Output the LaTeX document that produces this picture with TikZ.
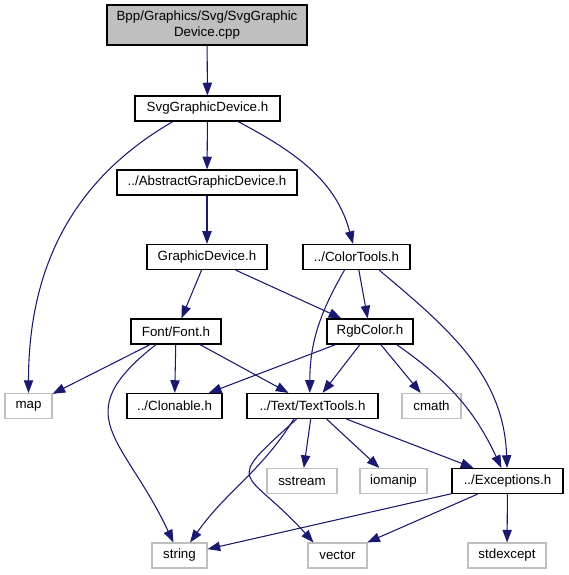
\documentclass[tikz,border=0pt]{standalone}
\usepackage{fontspec}
\setmainfont{Liberation Sans}
\usetikzlibrary{arrows.meta}
\definecolor{edgeblue}{RGB}{25,25,112}
\definecolor{sysgray}{RGB}{191,191,191}
\begin{document}
\begin{tikzpicture}[x=0.75pt, y=-0.75pt,
    hdr/.style={draw=black, line width=0.9pt, minimum height=18.75pt, inner xsep=2pt, font=\fontsize{10}{11.5}\selectfont},
    sys/.style={hdr, draw=sysgray, line width=0.8pt},
    dep/.style={draw=edgeblue, line width=0.8pt, -{Triangle[length=9.5pt,width=7pt]}}]
    \useasboundingbox (0,0) rectangle (568,575);
    \node[hdr, fill=sysgray, minimum width=150pt, minimum height=30pt, align=center] (cpp) at (207,25) {Bpp/Graphics/Svg/SvgGraphic\\Device.cpp};
    \node[hdr, minimum width=108.75pt] (svgh) at (207.5,108.5) {SvgGraphicDevice.h};
    \node[hdr, minimum width=135pt] (abstract) at (207,182.5) {../AbstractGraphicDevice.h};
    \node[hdr, minimum width=90pt] (graphic) at (207,257) {GraphicDevice.h};
    \node[hdr, minimum width=80.25pt] (colortools) at (356.5,257) {../ColorTools.h};
    \node[hdr, minimum width=67.5pt] (font) at (176,331.5) {Font/Font.h};
    \node[hdr, minimum width=64.5pt] (rgb) at (370,331.5) {RgbColor.h};
    \node[sys, minimum width=35.25pt] (map) at (28.5,406) {map};
    \node[hdr, minimum width=71.25pt] (clonable) at (174.5,406) {../Clonable.h};
    \node[hdr, minimum width=98.25pt] (texttools) at (312.5,406) {../Text/TextTools.h};
    \node[sys, minimum width=44.25pt] (cmath) at (431.5,406) {cmath};
    \node[sys, minimum width=52.5pt] (sstream) at (302,481) {sstream};
    \node[sys, minimum width=50.25pt] (iomanip) at (393.5,481) {iomanip};
    \node[hdr, minimum width=83.25pt] (exceptions) at (507.5,481) {../Exceptions.h};
    \node[sys, minimum width=41.25pt] (string) at (179.5,555.5) {string};
    \node[sys, minimum width=44.25pt] (vector) at (337.5,555.5) {vector};
    \node[sys, minimum width=58.5pt] (stdexcept) at (507,555.5) {stdexcept};

    \draw[dep] (cpp) -- (svgh);
    \draw[dep] ([xshift=-26pt]svgh.south) to[out=210, in=90] (map);
    \draw[dep] (svgh) -- (abstract);
    \draw[dep] ([xshift=23pt]svgh.south) to[out=-28, in=105] (colortools);
    \draw[dep] (abstract) -- (graphic);
    \draw[dep] (graphic) -- (font);
    \draw[dep] (graphic) -- (rgb);
    \draw[dep] (colortools) -- (rgb);
    \draw[dep] ([xshift=-9pt]colortools.south) to[out=240, in=90] ([xshift=-2pt]texttools.north);
    \draw[dep] ([xshift=17pt]colortools.south) to[out=-40, in=92] (exceptions);
    \draw[dep] (font) -- (map);
    \draw[dep] (font) -- (clonable);
    \draw[dep] (font) -- (texttools);
    \draw[dep] ([xshift=-15pt]font.south) to[out=218, in=115, looseness=1.5] (string);
    \draw[dep] (rgb) -- (clonable);
    \draw[dep] (rgb) -- (texttools);
    \draw[dep] (rgb) -- (cmath);
    \draw[dep] ([xshift=20pt]rgb.south) to[out=-35, in=115] (exceptions);
    \draw[dep] (texttools) -- (sstream);
    \draw[dep] (texttools) -- (iomanip);
    \draw[dep] (texttools) -- (exceptions);
    \draw[dep] ([xshift=-14pt]texttools.south) to[out=238, in=55] ([xshift=8pt]string.north);
    \draw[dep] ([xshift=-12pt]texttools.south) to[out=222, in=132, looseness=2.1] ([xshift=-18pt]vector.north);
    \draw[dep] (exceptions) -- (string);
    \draw[dep] (exceptions) -- (vector);
    \draw[dep] (exceptions) -- (stdexcept);
\end{tikzpicture}
\end{document}
